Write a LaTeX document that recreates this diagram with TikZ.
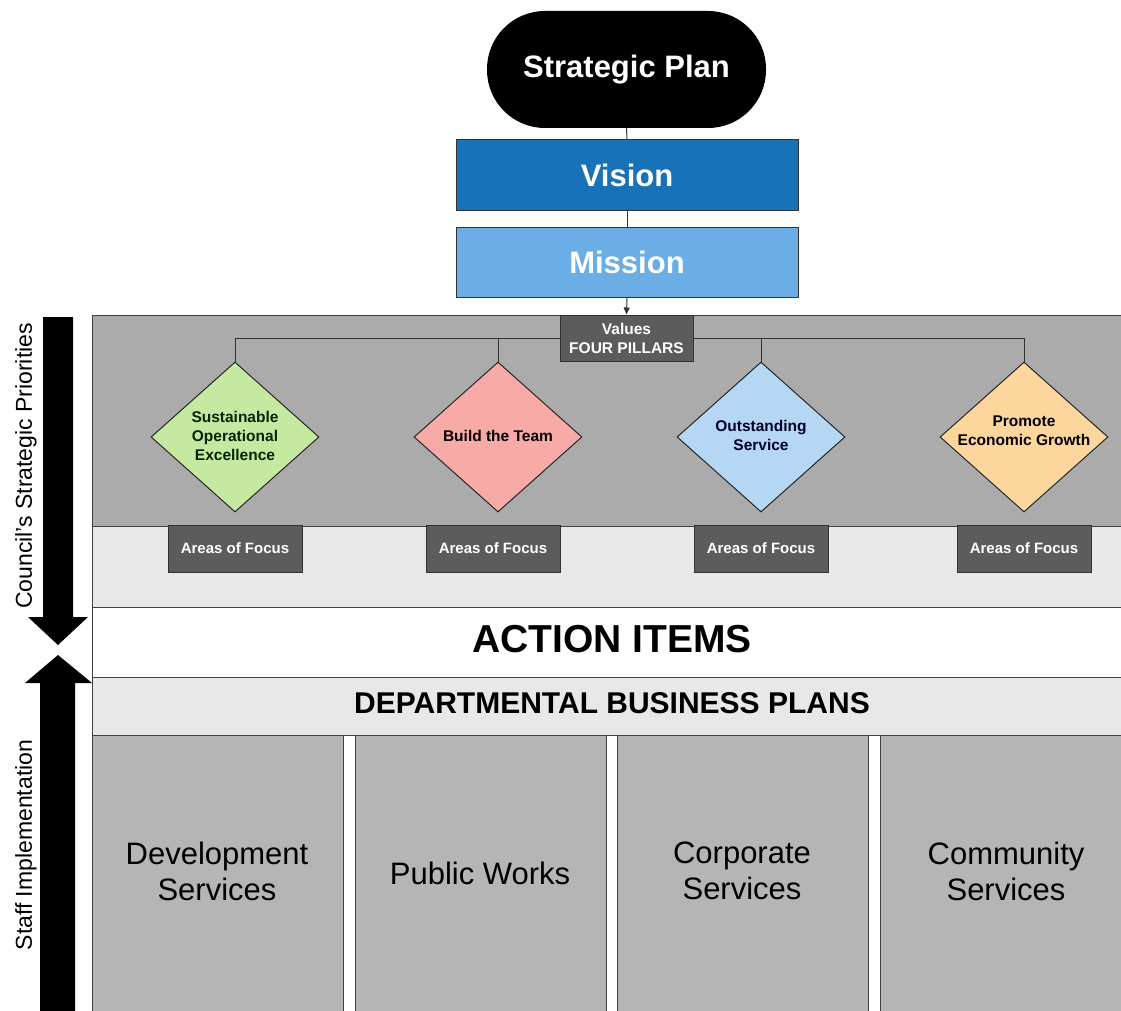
\documentclass[tikz,border=0pt]{standalone}
\usepackage{fontspec}
\setmainfont{Liberation Sans}
\usetikzlibrary{shapes.geometric,arrows.meta}
\definecolor{panelgray}{HTML}{ABABAB}
\definecolor{bandgray}{HTML}{E8E8E8}
\definecolor{colgray}{HTML}{B5B5B5}
\definecolor{boxgray}{HTML}{5C5C5C}
\definecolor{visionblue}{HTML}{1872B8}
\definecolor{missionblue}{HTML}{6BAEE5}
\definecolor{dgreen}{HTML}{C6E9A2}
\definecolor{dpink}{HTML}{F8AAA7}
\definecolor{dblue}{HTML}{B5D7F3}
\definecolor{dorange}{HTML}{FDD69E}
\tikzset{
  region/.style={rectangle, anchor=north west, inner sep=0, draw=black!75, line width=1pt},
  topbox/.style={rectangle, minimum width=342, minimum height=70, inner sep=0, draw=black!80, line width=1pt, text=white, font=\bfseries\fontsize{31}{36}\selectfont},
  pillar/.style={diamond, minimum width=168, minimum height=150, inner sep=0, draw=black!85, line width=1pt},
  pillartext/.style={align=center, inner sep=0, font=\bfseries\fontsize{15.5}{19}\selectfont},
  darkbox/.style={rectangle, fill=boxgray, draw=black!80, line width=1pt, text=white, inner sep=0, font=\bfseries\fontsize{15}{18}\selectfont, align=center},
  dept/.style={region, fill=colgray, minimum width=251, minimum height=290},
  depttext/.style={align=center, inner sep=0, font=\fontsize{31}{36}\selectfont},
  conn/.style={draw=black!80, line width=1pt},
  sidelabel/.style={rotate=90, inner sep=0, font=\fontsize{23}{27}\selectfont}
}
\begin{document}
\begin{tikzpicture}[x=1pt,y=-1pt]
\useasboundingbox (0,0) rectangle (1121,1011);
\fill[white] (0,0) rectangle (1121,1011);
% panel regions
\node[region, fill=panelgray, minimum width=1040, minimum height=211] (panel) at (92,315) {};
\node[region, fill=bandgray, minimum width=1040, minimum height=81] (focusband) at (92,526) {};
\node[region, fill=white, minimum width=1040, minimum height=70] (actionband) at (92,607) {};
\node[region, fill=bandgray, minimum width=1040, minimum height=58] (deptband) at (92,677) {};
\node[font=\bfseries\fontsize{39}{44}\selectfont, inner sep=0] (action) at (612,639) {ACTION ITEMS};
\node[font=\bfseries\fontsize{30}{34}\selectfont, inner sep=0] (depttitle) at (612,703) {DEPARTMENTAL BUSINESS PLANS};
% department columns
\node[dept] (c1) at (92,735) {};
\node[dept] (c2) at (355,735) {};
\node[dept] (c3) at (617,735) {};
\node[dept, minimum width=260] (c4) at (880,735) {};
\node[depttext] (c1t) at (217,871) {Development\\Services};
\node[depttext] (c2t) at (480,873) {Public Works};
\node[depttext] (c3t) at (742,871) {Corporate\\Services};
\node[depttext] (c4t) at (1006,871) {Community\\Services};
% top chain
\node[rectangle, rounded corners=58, fill=black, minimum width=279, minimum height=117, inner sep=0, text=white, font=\bfseries\fontsize{31}{36}\selectfont] (plan) at (626.5,69.5) {Strategic Plan};
\node[topbox, fill=visionblue] (vision) at (627,175) {Vision};
\node[topbox, fill=missionblue] (mission) at (627,262) {Mission};
\node[darkbox, minimum width=133, minimum height=46, font=\bfseries\fontsize{15.5}{19}\selectfont] (values) at (626.5,338) {Values\\FOUR PILLARS};
\draw[conn] (plan.south) -- (vision.north);
\draw[conn] (vision.south) -- (mission.north);
\draw[conn, -{Triangle[length=7pt,width=6pt]}] (mission.south) -- (values.north);
% pillars
\node[pillar, fill=dgreen] (d1) at (235,437) {};
\node[pillar, fill=dpink] (d2) at (498,437) {};
\node[pillar, fill=dblue] (d3) at (761,437) {};
\node[pillar, fill=dorange] (d4) at (1024,437) {};
\node[pillartext, text=black!85!green] (t1) at (235,436) {Sustainable\\Operational\\Excellence};
\node[pillartext, text=black] (t2) at (498,436) {Build the Team};
\node[pillartext, text=black!85!blue] (t3) at (761,435) {Outstanding\\Service};
\node[pillartext, text=black] (t4) at (1024,431) {Promote\\Economic Growth};
\draw[conn] (values.west) -| (d1.north);
\draw[conn] (values.west) -| (d2.north);
\draw[conn] (values.east) -| (d3.north);
\draw[conn] (values.east) -| (d4.north);
% areas of focus
\node[darkbox, minimum width=134, minimum height=47] (f1) at (235,548.5) {Areas of Focus};
\node[darkbox, minimum width=134, minimum height=47] (f2) at (493,548.5) {Areas of Focus};
\node[darkbox, minimum width=134, minimum height=47] (f3) at (761,548.5) {Areas of Focus};
\node[darkbox, minimum width=134, minimum height=47] (f4) at (1024,548.5) {Areas of Focus};
% side arrows
\fill[black] (43,317) -- (73,317) -- (73,617) -- (88,617) -- (58,645) -- (28,617) -- (43,617) -- cycle;
\fill[black] (40,1015) -- (40,683) -- (25,683) -- (58,655) -- (92,683) -- (75,683) -- (75,1015) -- cycle;
\node[sidelabel] (council) at (26,466) {Council's Strategic Priorities};
\node[sidelabel] (staff) at (26,845) {Staff Implementation};
\end{tikzpicture}
\end{document}
